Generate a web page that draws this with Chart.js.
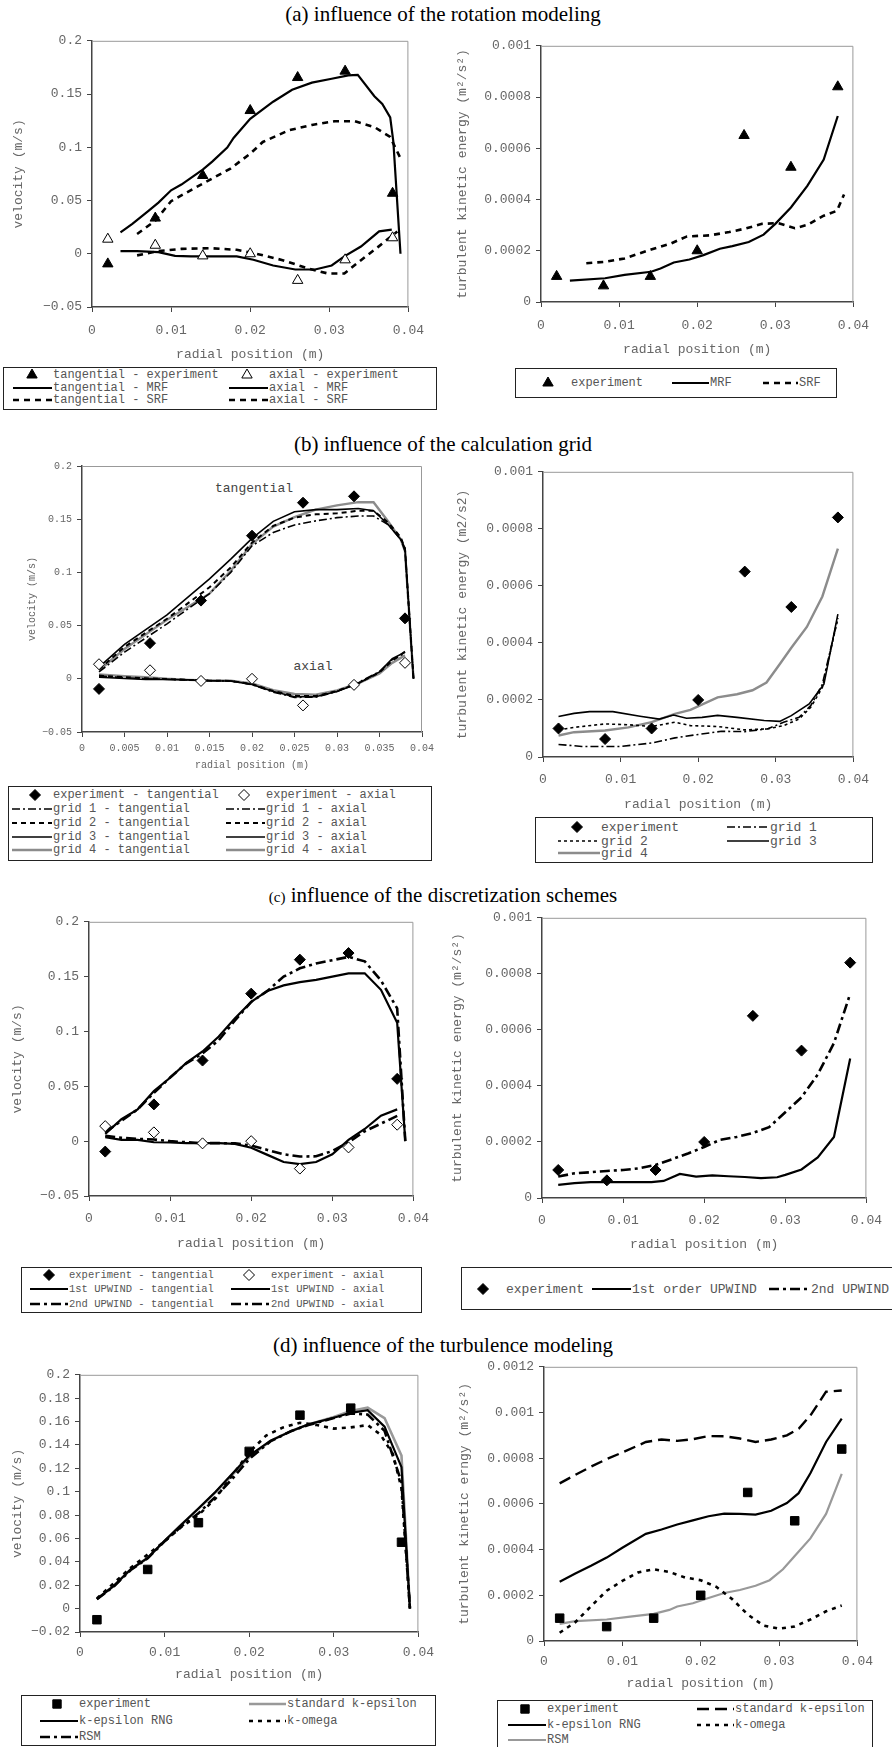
<!DOCTYPE html>
<html>
<head>
<meta charset="utf-8">
<script src="https://cdn.jsdelivr.net/npm/chart.js@4.4.1/dist/chart.umd.min.js"></script>
<style>
body { margin: 0; width: 892px; height: 1747px; overflow: hidden; background: #fff; position: relative; }
.title { position: absolute; left: 0; width: 886px; text-align: center; font-family: "Liberation Serif", "Times New Roman", serif; font-size: 21px; line-height: 21px; color: #000; white-space: nowrap; }
canvas { position: absolute; }
.lg { position: absolute; border: 1px solid #222; box-sizing: border-box; }
.lt { position: absolute; white-space: nowrap; color: #555; line-height: 1; transform: translateY(-50%); font-family: "Liberation Mono", "Courier New", monospace; }
.note { position: absolute; white-space: nowrap; color: #444; font: 13px "Liberation Mono", monospace; transform: translate(-50%, -50%); }
</style>
</head>
<body>
<div class="title" style="top:4px">(a) influence of the rotation modeling</div>
<div class="title" style="top:434px">(b) influence of the calculation grid</div>
<div class="title" style="top:885px"><span style="font-size:15px">(c)</span> influence of the discretization schemes</div>
<div class="title" style="top:1335px">(d) influence of the turbulence modeling</div>
<div class="note" style="left:254px;top:488px">tangential</div>
<div class="note" style="left:313px;top:666px">axial</div>
<script>
// tick labels
const xTicks = [0, 0.01, 0.02, 0.03, 0.04];
const xTicksFine = [0, 0.005, 0.01, 0.015, 0.02, 0.025, 0.03, 0.035, 0.04];
const velTicks = [-0.05, 0, 0.05, 0.1, 0.15, 0.2];
const velTicksD = [-0.02, 0, 0.02, 0.04, 0.06, 0.08, 0.1, 0.12, 0.14, 0.16, 0.18, 0.2];
const kTicks = [0, 0.0002, 0.0004, 0.0006, 0.0008, 0.001];
const kTicksD = [0, 0.0002, 0.0004, 0.0006, 0.0008, 0.001, 0.0012];

// experiment (same in every panel)
const expX = [0.002, 0.008, 0.014, 0.020, 0.026, 0.032, 0.038];
const expTang = [-0.0095, 0.0335, 0.0735, 0.1345, 0.1655, 0.1715, 0.0568];
const expAxial = [0.0137, 0.008, -0.002, 0.0, -0.025, -0.0057, 0.015];
const expK = [0.0001, 0.000063, 0.0001, 0.0002, 0.00065, 0.000526, 0.00084];

// (a) rotation modeling
const aTangMrfX = [0.0036, 0.0051, 0.0071, 0.0084, 0.0100, 0.0113, 0.0140, 0.0152, 0.0171, 0.0179, 0.0200, 0.0229, 0.0253, 0.0278, 0.0303, 0.0324, 0.0336, 0.0357, 0.0367, 0.0377, 0.0381, 0.0390];
const aTangMrf = [0.020, 0.028, 0.040, 0.048, 0.0596, 0.065, 0.079, 0.0865, 0.0998, 0.1088, 0.1267, 0.1428, 0.154, 0.1607, 0.1644, 0.1675, 0.168, 0.148, 0.1406, 0.128, 0.105, 0];
const aTangSrfX = [0.0057, 0.0080, 0.0100, 0.0133, 0.0175, 0.0200, 0.0216, 0.0249, 0.0278, 0.0307, 0.0332, 0.0357, 0.0377, 0.0390];
const aTangSrf = [0.0185, 0.031, 0.0494, 0.063, 0.080, 0.094, 0.105, 0.116, 0.121, 0.1245, 0.1245, 0.119, 0.1097, 0.0896];
const aAxMrfX = [0.0036, 0.0057, 0.0084, 0.0105, 0.0125, 0.0150, 0.0183, 0.0204, 0.0229, 0.0257, 0.0282, 0.0303, 0.0319, 0.0340, 0.0363, 0.0379];
const aAxMrf = [0.0025, 0.0025, 0.0015, -0.002, -0.0025, -0.0025, -0.0025, -0.0056, -0.011, -0.0148, -0.0148, -0.011, -0.0025, 0.0068, 0.021, 0.0226];
const aAxSrfX = [0.0057, 0.0084, 0.0113, 0.0150, 0.0183, 0.0208, 0.0241, 0.0274, 0.0298, 0.0319, 0.0340, 0.0361, 0.0386];
const aAxSrf = [-0.0015, 0.0025, 0.0046, 0.0052, 0.0037, 0.0, -0.006, -0.014, -0.0185, -0.0185, -0.006, 0.006, 0.021];
const aKMrfX = [0.0037, 0.0082, 0.0107, 0.0141, 0.0153, 0.0170, 0.0190, 0.0208, 0.0229, 0.0245, 0.0266, 0.0285, 0.0300, 0.0320, 0.0341, 0.0362, 0.0380];
const aKMrf = [0.0000837, 0.0000927, 0.000106, 0.000118, 0.000131, 0.000154, 0.000166, 0.000183, 0.000208, 0.000218, 0.000234, 0.000263, 0.000305, 0.000369, 0.000453, 0.000556, 0.000726];
const aKSrfX = [0.0058, 0.0082, 0.0107, 0.0141, 0.0166, 0.0187, 0.0216, 0.0241, 0.0262, 0.0283, 0.0304, 0.0325, 0.0341, 0.0362, 0.0379, 0.0388];
const aKSrf = [0.000151, 0.000157, 0.00017, 0.000205, 0.000228, 0.000256, 0.00026, 0.000273, 0.000287, 0.000305, 0.000308, 0.000288, 0.000301, 0.000337, 0.000356, 0.00042];

// (b) calculation grid
const bTangX = [0.002, 0.005, 0.010, 0.015, 0.0175, 0.020, 0.0225, 0.025, 0.0275, 0.030, 0.0325, 0.0343, 0.036, 0.0375, 0.038, 0.039];
const bTang1 = [0.0065, 0.025, 0.0517, 0.080, 0.100, 0.125, 0.1375, 0.1446, 0.1484, 0.1515, 0.153, 0.153, 0.145, 0.131, 0.120, 0];
const bTang2 = [0.0087, 0.030, 0.0564, 0.086, 0.1047, 0.128, 0.1437, 0.1515, 0.1546, 0.1555, 0.158, 0.158, 0.147, 0.133, 0.122, 0];
const bTang3 = [0.011, 0.0324, 0.060, 0.094, 0.1125, 0.132, 0.148, 0.157, 0.159, 0.159, 0.160, 0.158, 0.145, 0.131, 0.123, 0];
const bTang4 = [0.008, 0.028, 0.0555, 0.080, 0.1016, 0.1266, 0.143, 0.152, 0.159, 0.163, 0.166, 0.166, 0.148, 0.131, 0.120, 0];
const bAxX = [0.002, 0.005, 0.0075, 0.010, 0.0125, 0.015, 0.0175, 0.020, 0.0225, 0.025, 0.0275, 0.030, 0.0325, 0.035, 0.0365, 0.038];
const bAx1 = [0.0025, 0.001, 0.0, -0.0005, -0.001, -0.0018, -0.002, -0.0055, -0.0125, -0.0175, -0.0172, -0.012, -0.0035, 0.0068, 0.018, 0.024];
const bAx2 = [0.003, 0.0015, 0.0005, -0.0003, -0.001, -0.0018, -0.002, -0.005, -0.0115, -0.016, -0.0162, -0.0115, -0.004, 0.006, 0.017, 0.0255];
const bAx3 = [0.0016, 0.0003, -0.0006, -0.0006, -0.001, -0.0019, -0.002, -0.0053, -0.012, -0.0168, -0.0168, -0.012, -0.0044, 0.0065, 0.019, 0.025];
const bAx4 = [0.004, 0.0025, 0.0016, 0, -0.001, -0.0016, -0.0019, -0.0044, -0.0106, -0.0143, -0.015, -0.011, -0.0044, 0.005, 0.015, 0.022];
const bK1X = [0.002, 0.005, 0.010, 0.014, 0.017, 0.020, 0.023, 0.026, 0.029, 0.031, 0.033, 0.0345, 0.036, 0.038];
const bK1 = [0.000044, 0.000037, 0.000037, 0.000049, 0.000067, 0.000079, 0.00009, 0.000089, 0.000099, 0.000122, 0.000139, 0.00018, 0.000255, 0.000487];
const bK2X = [0.002, 0.004, 0.008, 0.011, 0.014, 0.017, 0.019, 0.0225, 0.026, 0.029, 0.031, 0.033, 0.0345, 0.036, 0.038];
const bK2 = [0.000095, 0.000104, 0.000116, 0.000113, 0.000107, 0.000122, 0.00011, 0.000107, 0.000095, 0.000099, 0.00011, 0.000133, 0.000174, 0.000244, 0.000487];
const bK3X = [0.002, 0.004, 0.006, 0.009, 0.0125, 0.015, 0.0168, 0.0185, 0.0205, 0.0225, 0.025, 0.0285, 0.0305, 0.032, 0.0343, 0.0362, 0.038];
const bK3 = [0.000142, 0.000153, 0.000159, 0.000159, 0.000143, 0.000133, 0.000147, 0.000136, 0.000139, 0.000146, 0.000139, 0.000128, 0.000125, 0.000145, 0.000186, 0.000255, 0.000501];
const bK4X = [0.002, 0.004, 0.008, 0.011, 0.014, 0.017, 0.019, 0.0225, 0.025, 0.027, 0.0288, 0.0305, 0.032, 0.034, 0.036, 0.038];
const bK4 = [0.0000754, 0.000087, 0.000093, 0.000104, 0.000122, 0.000151, 0.000165, 0.000209, 0.00022, 0.000234, 0.000261, 0.000325, 0.000383, 0.000456, 0.000563, 0.000731];

// (c) discretization schemes
const cTangX = [0.002, 0.004, 0.006, 0.008, 0.010, 0.012, 0.014, 0.016, 0.018, 0.020, 0.022, 0.024, 0.026, 0.028, 0.030, 0.032, 0.034, 0.036, 0.038, 0.039];
const cTang1 = [0.0066, 0.020, 0.029, 0.0457, 0.0578, 0.0713, 0.0818, 0.0954, 0.112, 0.127, 0.137, 0.142, 0.145, 0.147, 0.150, 0.153, 0.153, 0.138, 0.108, 0];
const cTang2 = [0.008, 0.0186, 0.029, 0.044, 0.058, 0.071, 0.080, 0.092, 0.110, 0.127, 0.137, 0.150, 0.1576, 0.162, 0.165, 0.168, 0.164, 0.1465, 0.121, 0];
const cAxX = [0.002, 0.004, 0.006, 0.008, 0.010, 0.012, 0.014, 0.016, 0.018, 0.020, 0.022, 0.024, 0.026, 0.028, 0.030, 0.032, 0.034, 0.036, 0.038];
const cAx1 = [0.0036, 0.0012, 0.0012, -0.001, -0.0012, -0.0018, -0.0018, -0.0018, -0.0025, -0.006, -0.0125, -0.019, -0.021, -0.019, -0.012, 0.0012, 0.0111, 0.0232, 0.029];
const cAx2 = [0.005, 0.003, 0.0021, 0.0015, 0, -0.001, -0.0018, -0.0018, -0.002, -0.004, -0.008, -0.012, -0.014, -0.0138, -0.009, -0.001, 0.009, 0.016, 0.023];
const cK1X = [0.002, 0.004, 0.006, 0.008, 0.010, 0.012, 0.0135, 0.015, 0.017, 0.019, 0.021, 0.023, 0.025, 0.027, 0.029, 0.030, 0.032, 0.034, 0.036, 0.038];
const cK1 = [0.000047, 0.000053, 0.0000565, 0.0000565, 0.0000565, 0.0000565, 0.0000565, 0.000061, 0.000086, 0.0000765, 0.000081, 0.0000776, 0.000075, 0.0000706, 0.000074, 0.0000824, 0.000102, 0.000145, 0.000218, 0.000498];
const cK2X = [0.002, 0.004, 0.006, 0.008, 0.010, 0.012, 0.014, 0.016, 0.018, 0.020, 0.022, 0.024, 0.026, 0.028, 0.030, 0.032, 0.034, 0.036, 0.038];
const cK2 = [0.0000765, 0.000088, 0.000092, 0.0000965, 0.0001, 0.000106, 0.000118, 0.000138, 0.000159, 0.000182, 0.000208, 0.000218, 0.000232, 0.000253, 0.000306, 0.000359, 0.000441, 0.000553, 0.000729];

// (d) turbulence modeling
const dVelX = [0.002, 0.004, 0.006, 0.008, 0.010, 0.012, 0.014, 0.016, 0.018, 0.020, 0.0225, 0.025, 0.027, 0.030, 0.032, 0.034, 0.036, 0.038, 0.039];
const dVelStd = [0.0085, 0.0195, 0.0336, 0.0434, 0.058, 0.072, 0.0855, 0.0995, 0.1145, 0.1295, 0.1435, 0.152, 0.1576, 0.164, 0.169, 0.172, 0.163, 0.131, 0];
const dVelRng = [0.0082, 0.0195, 0.0336, 0.0434, 0.058, 0.072, 0.0857, 0.0998, 0.1153, 0.1308, 0.1435, 0.152, 0.1576, 0.1633, 0.1675, 0.1698, 0.1557, 0.121, 0];
const dVelRsm = [0.008, 0.019, 0.033, 0.043, 0.0575, 0.0705, 0.0815, 0.0956, 0.111, 0.128, 0.143, 0.152, 0.157, 0.163, 0.167, 0.166, 0.152, 0.108, 0];
const dVelKwX = [0.002, 0.006, 0.010, 0.012, 0.014, 0.016, 0.018, 0.020, 0.022, 0.024, 0.026, 0.028, 0.030, 0.032, 0.034, 0.0355, 0.037, 0.038, 0.039];
const dVelKw = [0.0087, 0.035, 0.0575, 0.070, 0.080, 0.094, 0.114, 0.1337, 0.148, 0.155, 0.159, 0.157, 0.154, 0.155, 0.157, 0.149, 0.132, 0.103, 0];
const dKX = [0.002, 0.004, 0.006, 0.008, 0.010, 0.013, 0.015, 0.017, 0.019, 0.021, 0.023, 0.025, 0.027, 0.029, 0.031, 0.0325, 0.034, 0.036, 0.038];
const dKStd = [0.00069, 0.000727, 0.000763, 0.000796, 0.000825, 0.000871, 0.000882, 0.000876, 0.000883, 0.000897, 0.000896, 0.000886, 0.000871, 0.000882, 0.0009, 0.000929, 0.000987, 0.001091, 0.001096];
const dKRng = [0.000259, 0.000295, 0.000329, 0.000365, 0.000408, 0.000469, 0.000488, 0.00051, 0.000528, 0.000546, 0.000557, 0.000556, 0.000553, 0.00057, 0.000604, 0.000647, 0.000734, 0.000871, 0.000973];
const dKKwX = [0.002, 0.004, 0.006, 0.008, 0.010, 0.012, 0.014, 0.016, 0.018, 0.020, 0.022, 0.024, 0.026, 0.028, 0.030, 0.032, 0.034, 0.036, 0.038];
const dKKw = [0.000036, 0.0000825, 0.000152, 0.00022, 0.000263, 0.0003, 0.000314, 0.000302, 0.000278, 0.000266, 0.000237, 0.000184, 0.000116, 0.000068, 0.0000536, 0.0000637, 0.000094, 0.00013, 0.000155];
const dKRsmX = [0.002, 0.004, 0.008, 0.011, 0.014, 0.016, 0.017, 0.019, 0.021, 0.023, 0.025, 0.027, 0.0288, 0.0305, 0.032, 0.034, 0.036, 0.038];
const dKRsm = [0.0000753, 0.0000869, 0.000094, 0.000107, 0.000119, 0.000136, 0.000151, 0.000165, 0.000188, 0.00021, 0.000223, 0.000242, 0.000266, 0.000314, 0.000372, 0.000449, 0.000556, 0.000731];

const mono = '"Liberation Mono", "Courier New", monospace';

// line styles
const SOLID = { c: '#000', w: 2.2, d: [] };
const THIN = { c: '#000', w: 1.6, d: [] };
const DASH = { c: '#000', w: 2.6, d: [6, 5] };
const DASHDOT = { c: '#000', w: 1.6, d: [8, 3, 2, 3] };
const SHORTDASH = { c: '#000', w: 2, d: [5, 4] };
const DOTS = { c: '#000', w: 1.6, d: [3, 3] };
const GREY = { c: '#8c8c8c', w: 2.4, d: [] };
const LONGSHORT = { c: '#000', w: 2.6, d: [10, 4, 3, 4] };
const KW = { c: '#000', w: 2.6, d: [4, 5] };
const LONGDASH = { c: '#000', w: 2.4, d: [12, 6] };

function fmt(v) {
    const s = String(parseFloat(Number(v).toFixed(6)));
    return s.replace('-', '\u2212');
}

function line(xs, ys, st) {
    return {
        data: xs.map((x, i) => ({ x: x, y: ys[i] })),
        borderColor: st.c, borderWidth: st.w, borderDash: st.d,
        pointRadius: 0, tension: 0, fill: false, showLine: true
    };
}

function pts(xs, ys, shape, fill, r) {
    return {
        data: xs.map((x, i) => ({ x: x, y: ys[i] })),
        showLine: false, pointStyle: shape, pointRadius: r,
        pointBackgroundColor: fill, pointBorderColor: '#000', pointBorderWidth: 1,
        borderColor: '#000', backgroundColor: fill
    };
}

// gray frame on top and right of the plot area
const frame = {
    id: 'frame',
    beforeDatasetsDraw(chart) {
        const a = chart.chartArea, ctx = chart.ctx;
        ctx.save();
        ctx.strokeStyle = '#999';
        ctx.lineWidth = 1;
        ctx.beginPath();
        ctx.moveTo(a.left, a.top + 0.5);
        ctx.lineTo(a.right - 0.5, a.top + 0.5);
        ctx.lineTo(a.right - 0.5, a.bottom);
        ctx.stroke();
        ctx.restore();
    }
};

function panel(p) {
    const cv = document.createElement('canvas');
    const [l, t, w, h] = p.box;
    cv.width = w;
    cv.height = h;
    Object.assign(cv.style, { left: l + 'px', top: t + 'px', width: w + 'px', height: h + 'px' });
    document.body.appendChild(cv);
    const font = { family: mono, size: p.fs };
    const grid = { drawOnChartArea: false, drawTicks: true, tickLength: 5, color: '#444', lineWidth: 1 };
    const border = { display: true, color: '#444', width: 1.5 };
    new Chart(cv, {
        type: 'line',
        data: { datasets: p.sets },
        options: {
            responsive: false,
            animation: false,
            events: [],
            layout: { padding: { left: 0, top: 10, right: p.padR, bottom: 0 } },
            plugins: { legend: { display: false }, tooltip: { enabled: false } },
            scales: {
                x: {
                    type: 'linear', position: 'bottom', min: 0, max: 0.04,
                    grid: grid, border: border,
                    afterBuildTicks: s => { s.ticks = p.xt.map(v => ({ value: v })); },
                    afterFit: s => { s.height = p.hx; },
                    ticks: { font: font, color: '#666', padding: p.xpad, maxRotation: 0, autoSkip: false, callback: fmt },
                    title: { display: true, text: 'radial position (m)', font: font, color: '#666', padding: { top: 0, bottom: 0 } }
                },
                y: {
                    type: 'linear', position: 'left', min: p.yt[0], max: p.yt[p.yt.length - 1],
                    grid: grid, border: border,
                    afterBuildTicks: s => { s.ticks = p.yt.map(v => ({ value: v })); },
                    afterFit: s => { s.width = p.wy; },
                    ticks: { font: font, color: '#666', padding: 5, autoSkip: false, callback: fmt },
                    title: { display: true, text: p.ytitle, font: font, color: '#666', padding: { top: p.ytp, bottom: 0 } }
                }
            }
        },
        plugins: [frame]
    });
}

// ---- panels ----
panel({
    box: [0, 28, 435, 334], wy: 92, hx: 55, padR: 20, fs: 13, xpad: 11, ytp: 11,
    xt: xTicks, yt: velTicks, ytitle: 'velocity (m/s)',
    sets: [
        pts(expX, expTang, 'triangle', '#000', 6),
        pts(expX, expAxial, 'triangle', '#fff', 6),
        line(aTangMrfX, aTangMrf, SOLID),
        line(aTangSrfX, aTangSrf, DASH),
        line(aAxMrfX, aAxMrf, SOLID),
        line(aAxSrfX, aAxSrf, DASH)
    ]
});
panel({
    box: [450, 33, 430, 324], wy: 91, hx: 55, padR: 20, fs: 13, xpad: 11, ytp: 5,
    xt: xTicks, yt: kTicks, ytitle: 'turbulent kinetic energy (m\u00b2/s\u00b2)',
    sets: [
        pts(expX, expK, 'triangle', '#000', 6),
        line(aKMrfX, aKMrf, SOLID),
        line(aKSrfX, aKSrf, DASH)
    ]
});
panel({
    box: [0, 455, 442, 316], wy: 82, hx: 39, padR: 20, fs: 10, xpad: 5, ytp: 26,
    xt: xTicksFine, yt: velTicks, ytitle: 'velocity (m/s)',
    sets: [
        pts(expX, expTang, 'rectRot', '#000', 5.5),
        pts(expX, expAxial, 'rectRot', '#fff', 5.5),
        line(bTangX, bTang1, DASHDOT),
        line(bTangX, bTang2, SHORTDASH),
        line(bTangX, bTang3, THIN),
        line(bTangX, bTang4, GREY),
        line(bAxX, bAx1, DASHDOT),
        line(bAxX, bAx2, SHORTDASH),
        line(bAxX, bAx3, THIN),
        line(bAxX, bAx4, GREY)
    ]
});
panel({
    box: [450, 459, 429, 353], wy: 93, hx: 55, padR: 20, fs: 13, xpad: 10, ytp: 5,
    xt: xTicks, yt: kTicks, ytitle: 'turbulent kinetic energy (m2/s2)',
    sets: [
        pts(expX, expK, 'rectRot', '#000', 5.5),
        line(bK1X, bK1, DASHDOT),
        line(bK2X, bK2, DOTS),
        line(bK3X, bK3, THIN),
        line(bK4X, bK4, GREY)
    ]
});
panel({
    box: [0, 909, 439, 342], wy: 89, hx: 55, padR: 20, fs: 13, xpad: 10, ytp: 10,
    xt: xTicks, yt: velTicks, ytitle: 'velocity (m/s)',
    sets: [
        pts(expX, expTang, 'rectRot', '#000', 5.5),
        pts(expX, expAxial, 'rectRot', '#fff', 5.5),
        line(cTangX, cTang1, SOLID),
        line(cTangX, cTang2, LONGSHORT),
        line(cAxX, cAx1, SOLID),
        line(cAxX, cAx2, LONGSHORT)
    ]
});
panel({
    box: [450, 905, 442, 347], wy: 92, hx: 54, padR: 16, fs: 13, xpad: 10, ytp: 0,
    xt: xTicks, yt: kTicks, ytitle: 'turbulent kinetic energy (m\u00b2/s\u00b2)',
    sets: [
        pts(expX, expK, 'rectRot', '#000', 5.5),
        line(cK1X, cK1, SOLID),
        line(cK2X, cK2, LONGSHORT)
    ]
});
panel({
    box: [0, 1362, 442, 320], wy: 80, hx: 50, padR: 20, fs: 13, xpad: 8, ytp: 10,
    xt: xTicks, yt: velTicksD, ytitle: 'velocity (m/s)',
    sets: [
        pts(expX, expTang, 'rect', '#000', 6),
        line(dVelX, dVelRng, SOLID),
        line(dVelKwX, dVelKw, KW),
        line(dVelX, dVelRsm, LONGSHORT),
        line(dVelX, dVelStd, { c: '#999', w: 2.6, d: [] })
    ]
});
panel({
    box: [450, 1354, 431, 337], wy: 94, hx: 50, padR: 20, fs: 13, xpad: 8, ytp: 7,
    xt: xTicks, yt: kTicksD, ytitle: 'turbulent kinetic erngy (m\u00b2/s\u00b2)',
    sets: [
        pts(expX, expK, 'rect', '#000', 6),
        line(dKX, dKStd, LONGDASH),
        line(dKX, dKRng, SOLID),
        line(dKKwX, dKKw, KW),
        line(dKRsmX, dKRsm, { c: '#999', w: 2.2, d: [] })
    ]
});

// ---- legends ----
const NS = 'http://www.w3.org/2000/svg';
const ov = document.createElementNS(NS, 'svg');
ov.setAttribute('width', 892);
ov.setAttribute('height', 1747);
ov.style.cssText = 'position:absolute;left:0;top:0;z-index:5';

function el(tag, attrs) {
    const e = document.createElementNS(NS, tag);
    for (const k in attrs) e.setAttribute(k, attrs[k]);
    ov.appendChild(e);
}

function marker(shape, fill, cx, cy) {
    const a = { fill: fill, stroke: '#000', 'stroke-width': 1 };
    if (shape === 'tri') a.points = `${cx},${cy - 6} ${cx + 5.2},${cy + 3} ${cx - 5.2},${cy + 3}`;
    if (shape === 'dia') a.points = `${cx},${cy - 5.5} ${cx + 5.5},${cy} ${cx},${cy + 5.5} ${cx - 5.5},${cy}`;
    if (shape === 'sq') a.points = `${cx - 4.2},${cy - 4.2} ${cx + 4.2},${cy - 4.2} ${cx + 4.2},${cy + 4.2} ${cx - 4.2},${cy + 4.2}`;
    el('polygon', a);
}

function text(s, x, y, fs) {
    const t = document.createElement('span');
    t.className = 'lt';
    t.textContent = s;
    t.style.left = x + 'px';
    t.style.top = y + 'px';
    t.style.fontSize = fs + 'px';
    document.body.appendChild(t);
}

function legend(box, fs, items) {
    const d = document.createElement('div');
    d.className = 'lg';
    Object.assign(d.style, { left: box[0] + 'px', top: box[1] + 'px', width: box[2] + 'px', height: box[3] + 'px' });
    document.body.appendChild(d);
    items.forEach(it => {
        if (it.mk) {
            marker(it.mk, it.fill, it.cx, it.y);
            text(it.t, it.tx, it.y, fs);
        } else {
            el('line', { x1: it.x1, x2: it.x2, y1: it.y, y2: it.y, stroke: it.st.c, 'stroke-width': it.st.w,
                'stroke-dasharray': it.st.d.length ? it.st.d.join(' ') : 'none' });
            text(it.t, it.x2 + 1, it.y, fs);
        }
    });
}

const mk = (t, mkShape, fill, cx, tx, y) => ({ t: t, mk: mkShape, fill: fill, cx: cx, tx: tx, y: y });
const ln = (t, st, x1, x2, y) => ({ t: t, st: st, x1: x1, x2: x2, y: y });

legend([3, 367, 434, 43], 12, [
    mk('tangential - experiment', 'tri', '#000', 32, 53, 375),
    mk('axial - experiment', 'tri', '#fff', 247, 269, 375),
    ln('tangential - MRF', SOLID, 13, 52, 388),
    ln('axial - MRF', SOLID, 229, 268, 388),
    ln('tangential - SRF', DASH, 13, 52, 400),
    ln('axial - SRF', DASH, 229, 268, 400)
]);
legend([515, 368, 322, 30], 12, [
    mk('experiment', 'tri', '#000', 548, 571, 383),
    ln('MRF', SOLID, 672, 709, 383),
    ln('SRF', DASH, 763, 798, 383)
]);
legend([8, 786, 424, 75], 12, [
    mk('experiment - tangential', 'dia', '#000', 35, 53, 795),
    mk('experiment - axial', 'dia', '#fff', 244, 266, 795),
    ln('grid 1 - tangential', DASHDOT, 12, 52, 809),
    ln('grid 1 - axial', DASHDOT, 226, 265, 809),
    ln('grid 2 - tangential', SHORTDASH, 12, 52, 823),
    ln('grid 2 - axial', SHORTDASH, 226, 265, 823),
    ln('grid 3 - tangential', THIN, 12, 52, 837),
    ln('grid 3 - axial', THIN, 226, 265, 837),
    ln('grid 4 - tangential', GREY, 12, 52, 850),
    ln('grid 4 - axial', GREY, 226, 265, 850)
]);
legend([535, 817, 338, 46], 13, [
    mk('experiment', 'dia', '#000', 577, 601, 827),
    ln('grid 1', DASHDOT, 727, 769, 827),
    ln('grid 2', DOTS, 558, 600, 841),
    ln('grid 3', THIN, 727, 769, 841),
    ln('grid 4', GREY, 558, 600, 853)
]);
legend([21, 1267, 401, 46], 10.5, [
    mk('experiment - tangential', 'dia', '#000', 49, 69, 1275),
    mk('experiment - axial', 'dia', '#fff', 249, 271, 1275),
    ln('1st UPWIND - tangential', SOLID, 30, 68, 1289),
    ln('1st UPWIND - axial', SOLID, 231, 270, 1289),
    ln('2nd UPWIND - tangential', LONGSHORT, 30, 68, 1304),
    ln('2nd UPWIND - axial', LONGSHORT, 231, 270, 1304)
]);
legend([461, 1267, 440, 43], 13, [
    mk('experiment', 'dia', '#000', 483, 506, 1289),
    ln('1st order UPWIND', SOLID, 592, 631, 1289),
    ln('2nd UPWIND', LONGSHORT, 769, 810, 1289)
]);
legend([21, 1695, 415, 51], 12, [
    mk('experiment', 'sq', '#000', 57, 79, 1704),
    ln('standard k-epsilon', { c: '#999', w: 2.6, d: [] }, 249, 286, 1704),
    ln('k-epsilon RNG', SOLID, 40, 78, 1721),
    ln('k-omega', KW, 249, 286, 1721),
    ln('RSM', LONGSHORT, 40, 78, 1737)
]);
legend([497, 1700, 376, 52], 12, [
    mk('experiment', 'sq', '#000', 525, 547, 1709),
    ln('standard k-epsilon', LONGDASH, 697, 734, 1709),
    ln('k-epsilon RNG', SOLID, 508, 546, 1725),
    ln('k-omega', KW, 697, 734, 1725),
    ln('RSM', { c: '#999', w: 2.2, d: [] }, 508, 546, 1740)
]);

document.body.appendChild(ov);
</script>
</body>
</html>
